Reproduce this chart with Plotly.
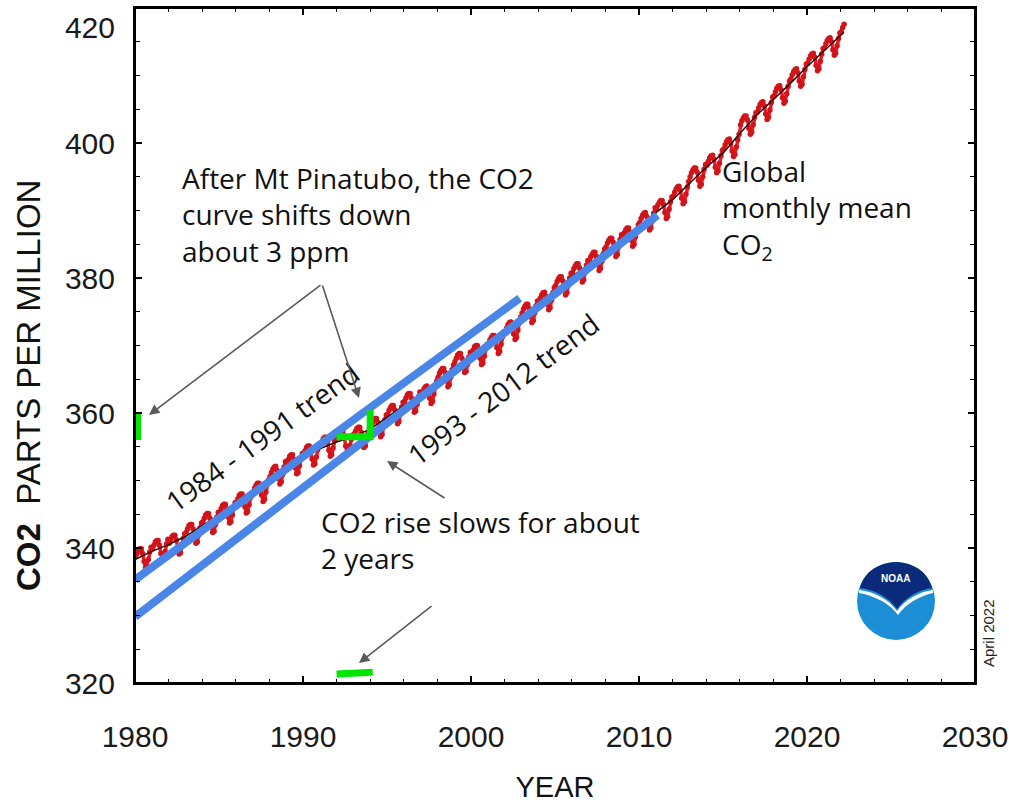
import pandas as pd
import plotly.graph_objects as go

# ---------------- data ----------------
# Global monthly mean CO2 (ppm), Jan 1980 .. Mar 2022
co2_monthly = [
    338.7, 339.2, 339.7, 339.9, 339.9, 339.2, 338.0, 337.1, 337.3, 338.3, 339.4, 340.1,  # 1980
    339.9, 340.4, 340.9, 341.1, 341.1, 340.4, 339.2, 338.3, 338.5, 339.5, 340.6, 341.3,  # 1981
    340.7, 341.2, 341.7, 341.9, 341.9, 341.2, 340.0, 339.1, 339.3, 340.3, 341.4, 342.1,  # 1982
    342.3, 342.8, 343.3, 343.5, 343.5, 342.8, 341.6, 340.7, 340.9, 341.9, 343.0, 343.7,  # 1983
    343.9, 344.4, 344.9, 345.1, 345.1, 344.4, 343.2, 342.3, 342.5, 343.5, 344.6, 345.3,  # 1984
    345.3, 345.8, 346.3, 346.5, 346.5, 345.8, 344.6, 343.7, 343.9, 344.9, 346.0, 346.7,  # 1985
    346.8, 347.3, 347.8, 348.0, 348.0, 347.3, 346.1, 345.2, 345.4, 346.4, 347.5, 348.2,  # 1986
    348.3, 348.9, 349.3, 349.6, 349.6, 349.0, 347.8, 346.9, 347.2, 348.3, 349.4, 350.1,  # 1987
    350.6, 351.2, 351.7, 352.0, 352.1, 351.5, 350.3, 349.5, 349.8, 350.9, 352.0, 352.8,  # 1988
    352.6, 353.1, 353.6, 353.8, 353.8, 353.1, 351.9, 351.0, 351.2, 352.2, 353.3, 354.0,  # 1989
    353.9, 354.4, 354.9, 355.1, 355.1, 354.4, 353.2, 352.3, 352.5, 353.5, 354.6, 355.3,  # 1990
    355.2, 355.7, 356.2, 356.4, 356.4, 355.7, 354.5, 353.6, 353.8, 354.8, 355.9, 356.6,  # 1991
    356.3, 356.7, 357.1, 357.3, 357.2, 356.5, 355.1, 354.2, 354.3, 355.2, 356.1, 356.7,  # 1992
    356.9, 357.3, 357.7, 357.9, 357.9, 357.2, 355.9, 354.9, 355.1, 356.0, 357.0, 357.7,  # 1993
    357.9, 358.5, 358.9, 359.2, 359.2, 358.6, 357.4, 356.5, 356.8, 357.9, 359.0, 359.7,  # 1994
    359.8, 360.4, 360.8, 361.1, 361.1, 360.5, 359.3, 358.4, 358.7, 359.8, 360.9, 361.6,  # 1995
    361.7, 362.2, 362.7, 362.9, 362.9, 362.2, 361.0, 360.1, 360.3, 361.3, 362.4, 363.1,  # 1996
    362.5, 363.1, 363.6, 363.9, 364.0, 363.4, 362.2, 361.4, 361.7, 362.8, 363.9, 364.7,  # 1997
    365.3, 365.9, 366.3, 366.6, 366.6, 366.0, 364.8, 363.9, 364.2, 365.3, 366.4, 367.1,  # 1998
    367.6, 368.1, 368.6, 368.8, 368.8, 368.1, 366.9, 366.0, 366.2, 367.2, 368.3, 369.0,  # 1999
    368.8, 369.3, 369.8, 370.0, 370.0, 369.3, 368.1, 367.2, 367.4, 368.4, 369.5, 370.2,  # 2000
    370.2, 370.8, 371.2, 371.5, 371.5, 370.9, 369.7, 368.8, 369.1, 370.2, 371.3, 372.0,  # 2001
    372.0, 372.6, 373.1, 373.4, 373.5, 372.9, 371.7, 370.9, 371.2, 372.3, 373.4, 374.2,  # 2002
    374.8, 375.4, 375.8, 376.1, 376.1, 375.5, 374.3, 373.4, 373.7, 374.8, 375.9, 376.6,  # 2003
    376.4, 377.0, 377.5, 377.8, 377.9, 377.3, 376.1, 375.3, 375.6, 376.7, 377.8, 378.6,  # 2004
    378.9, 379.5, 379.9, 380.2, 380.2, 379.6, 378.4, 377.5, 377.8, 378.9, 380.0, 380.7,  # 2005
    380.8, 381.4, 381.8, 382.1, 382.1, 381.5, 380.3, 379.4, 379.7, 380.8, 381.9, 382.6,  # 2006
    382.5, 383.1, 383.5, 383.8, 383.8, 383.2, 382.0, 381.1, 381.4, 382.5, 383.6, 384.3,  # 2007
    384.6, 385.2, 385.6, 385.9, 385.9, 385.3, 384.1, 383.2, 383.5, 384.6, 385.7, 386.4,  # 2008
    386.1, 386.7, 387.1, 387.4, 387.4, 386.8, 385.6, 384.7, 385.0, 386.1, 387.2, 387.9,  # 2009
    388.2, 388.8, 389.3, 389.6, 389.7, 389.1, 387.9, 387.1, 387.4, 388.5, 389.6, 390.4,  # 2010
    390.2, 390.8, 391.2, 391.5, 391.5, 390.9, 389.7, 388.8, 389.1, 390.2, 391.3, 392.0,  # 2011
    392.1, 392.7, 393.2, 393.5, 393.6, 393.0, 391.8, 391.0, 391.3, 392.4, 393.5, 394.3,  # 2012
    395.0, 395.6, 396.0, 396.3, 396.3, 395.7, 394.5, 393.6, 393.9, 395.0, 396.1, 396.8,  # 2013
    396.7, 397.3, 397.8, 398.1, 398.2, 397.6, 396.4, 395.6, 395.9, 397.0, 398.1, 398.9,  # 2014
    399.1, 399.7, 400.2, 400.5, 400.6, 400.0, 398.8, 398.0, 398.3, 399.4, 400.5, 401.3,  # 2015
    402.7, 403.3, 403.7, 404.0, 404.0, 403.4, 402.2, 401.3, 401.6, 402.7, 403.8, 404.5,  # 2016
    404.6, 405.2, 405.7, 406.0, 406.1, 405.5, 404.3, 403.5, 403.8, 404.9, 406.0, 406.8,  # 2017
    407.0, 407.6, 408.1, 408.4, 408.5, 407.9, 406.7, 405.9, 406.2, 407.3, 408.4, 409.2,  # 2018
    409.5, 410.1, 410.6, 410.9, 411.0, 410.4, 409.2, 408.4, 408.7, 409.8, 410.9, 411.7,  # 2019
    411.8, 412.4, 412.9, 413.2, 413.3, 412.7, 411.5, 410.7, 411.0, 412.1, 413.2, 414.0,  # 2020
    414.1, 414.7, 415.2, 415.5, 415.6, 415.0, 413.8, 413.0, 413.3, 414.4, 415.5, 416.3,  # 2021
    416.5, 417.1, 417.6,                                                                  # 2022
]

# Deseasonalized trend (black line), value at the start of each year
trend_years = [1980, 1981, 1982, 1983, 1984, 1985, 1986, 1987, 1988, 1989, 1990,
               1991, 1992, 1993, 1994, 1995, 1996, 1997, 1998, 1999, 2000, 2001,
               2002, 2003, 2004, 2005, 2006, 2007, 2008, 2009, 2010, 2011, 2012,
               2013, 2014, 2015, 2016, 2017, 2018, 2019, 2020, 2021, 2022, 2022.2]
trend_values = [338.3, 339.5, 340.5, 341.7, 343.3, 344.8, 346.3, 347.8, 349.9, 352.0, 353.4,
                354.7, 355.7, 356.5, 357.6, 359.3, 361.1, 362.5, 364.4, 366.8, 368.4, 369.8,
                371.6, 373.9, 376.1, 378.1, 380.2, 382.0, 384.0, 385.8, 387.6, 389.7, 391.6,
                394.0, 396.4, 398.5, 401.4, 404.1, 406.4, 408.8, 411.3, 413.6, 415.9, 416.4]

# Hand-drawn blue trend lines (year, ppm)
trend_8491_x = [1980.0, 2002.9]
trend_8491_y = [335.3, 377.0]
trend_9312_x = [1980.0, 2011.1]
trend_9312_y = [329.8, 389.3]

# Green marks (year, ppm)
green_axis_x = [1980.15, 1980.15]
green_axis_y = [356.0, 360.0]
green_step_x = [1992.0, 1994.0, 1994.0]
green_step_y = [356.5, 356.5, 360.4]
green_base_x = [1992.0, 1994.15]
green_base_y = [321.35, 321.6]

x_tick_vals = [1980, 1990, 2000, 2010, 2020, 2030]
x_tick_text = ["1980", "1990", "2000", "2010", "2020", "2030"]
y_tick_vals = [320, 340, 360, 380, 400, 420]
y_tick_text = ["320", "340", "360", "380", "400", "<br>420"]

# ---------------- geometry helpers (layout placement only) ----------------
L, R, T, B = 135, 975, 8, 683
X0, X1, Y0, Y1 = 1980, 2030, 320, 420


def dx(px):
    return X0 + (px - L) * (X1 - X0) / (R - L)


def dy(py):
    return Y0 + (B - py) * (Y1 - Y0) / (B - T)


def pxp(px):
    return (px - L) / (R - L)


def pyp(py):
    return (B - py) / (B - T)


def path(points, close=True):
    cmds = []
    for c, pts in points:
        s = " ".join(f"{pxp(a):.5f},{pyp(b):.5f}" for a, b in pts)
        cmds.append(f"{c} {s}")
    return " ".join(cmds) + (" Z" if close else "")


# monthly x positions (decimal years, mid-month)
months = pd.date_range("1980-01-01", periods=len(co2_monthly), freq="MS")
x_month = [d.year + (d.month - 0.5) / 12 for d in months]

fig = go.Figure()

fig.add_trace(go.Scatter(
    x=x_month, y=co2_monthly, mode="lines+markers",
    line=dict(color="#ee1c22", width=3.5),
    marker=dict(symbol="circle", size=5.5, color="#d0141a"),
    hoverinfo="skip", showlegend=False))

fig.add_trace(go.Scatter(
    x=trend_years, y=trend_values, mode="lines",
    line=dict(color="#2a0808", width=1.5),
    hoverinfo="skip", showlegend=False))

# empty trace that activates the top (mirror) year axis carrying the top ticks
fig.add_trace(go.Scatter(x=[], y=[], xaxis="x2", yaxis="y", hoverinfo="skip",
                         showlegend=False))

blue = "#4a86e8"
for xs, ys in [(trend_8491_x, trend_8491_y), (trend_9312_x, trend_9312_y)]:
    fig.add_trace(go.Scatter(x=xs, y=ys, mode="lines",
                             line=dict(color=blue, width=8),
                             hoverinfo="skip", showlegend=False, cliponaxis=False))

green = "#00e600"
for xs, ys in [(green_axis_x, green_axis_y), (green_step_x, green_step_y),
               (green_base_x, green_base_y)]:
    fig.add_trace(go.Scatter(x=xs, y=ys, mode="lines",
                             line=dict(color=green, width=7),
                             hoverinfo="skip", showlegend=False, cliponaxis=False))

txt_font = dict(family="Open Sans", size=28, color="#111111")
annotations = [
    dict(x=dx(180), y=dy(214), xref="x", yref="y", xanchor="left", yanchor="middle",
         align="left", showarrow=False, font=txt_font,
         text="After Mt Pinatubo, the CO2<br>curve shifts down<br>about 3 ppm"),
    dict(x=dx(720), y=dy(209), xref="x", yref="y", xanchor="left", yanchor="middle",
         align="left", showarrow=False, font=txt_font,
         text="Global<br>monthly mean<br>CO<sub>2</sub>"),
    dict(x=dx(319), y=dy(540), xref="x", yref="y", xanchor="left", yanchor="middle",
         align="left", showarrow=False, font=txt_font,
         text="CO2 rise slows for about<br>2 years"),
    dict(x=dx(262), y=dy(437), xref="x", yref="y", xanchor="center", yanchor="middle",
         showarrow=False, font=txt_font, textangle=-36, text="1984 - 1991 trend"),
    dict(x=dx(503), y=dy(389), xref="x", yref="y", xanchor="center", yanchor="middle",
         showarrow=False, font=txt_font, textangle=-37, text="1993 - 2012 trend"),
    # y axis title
    dict(x=pxp(28), y=pyp(386), xref="paper", yref="paper", xanchor="center",
         yanchor="middle", showarrow=False, textangle=-90,
         font=dict(family="Liberation Sans", size=33, color="#111111"),
         text="<b>CO2</b>\u00a0\u00a0PARTS PER MILLION"),
    # date stamp
    dict(x=pxp(988), y=pyp(633), xref="paper", yref="paper", xanchor="center",
         yanchor="middle", showarrow=False, textangle=-90,
         font=dict(family="Liberation Sans", size=15, color="#222222"),
         text="April 2022"),
    # NOAA logo text
    dict(x=pxp(895), y=pyp(578), xref="paper", yref="paper", xanchor="center",
         yanchor="middle", showarrow=False,
         font=dict(family="Liberation Sans", size=10, color="white"),
         text="<b>NOAA</b>"),
]

arrow_style = dict(showarrow=True, arrowhead=2, arrowsize=1.3, arrowwidth=1.6,
                   arrowcolor="#5a5a5a", text="", xref="x", yref="y", standoff=0)
for head, tail in [((149, 415), (322, 284)), ((359, 398), (322, 284)),
                   ((387, 461), (446, 499)), ((359, 663), (433, 605))]:
    annotations.append(dict(x=dx(head[0]), y=dy(head[1]),
                            ax=tail[0] - head[0], ay=tail[1] - head[1], **arrow_style))

shapes = [
    # plot frame
    dict(type="rect", xref="paper", yref="paper", x0=0, x1=1, y0=0, y1=1,
         line=dict(color="black", width=2), fillcolor="rgba(0,0,0,0)", layer="above"),
    # NOAA logo
    dict(type="circle", xref="paper", yref="paper",
         x0=pxp(857), x1=pxp(935), y0=pyp(640), y1=pyp(562),
         fillcolor="#1c8ed6", line=dict(width=0)),
    dict(type="path", xref="paper", yref="paper", fillcolor="white", line=dict(width=0),
         path=path([("M", [(859, 590)]),
                    ("C", [(876, 592), (889, 600), (897, 611)]),
                    ("C", [(905, 600), (918, 592), (933, 590)]),
                    ("L", [(933, 593)]),
                    ("C", [(919, 596), (906, 604), (898, 615)]),
                    ("C", [(890, 604), (876, 596), (859, 593)])])),
    dict(type="path", xref="paper", yref="paper", fillcolor="#0b2b7a", line=dict(width=0),
         path=path([("M", [(860, 588)]),
                    ("C", [(864, 571), (879, 563), (896, 562)]),
                    ("C", [(913, 563), (928, 571), (932, 588)]),
                    ("C", [(918, 590), (905, 598), (897, 609)]),
                    ("C", [(889, 598), (876, 590), (860, 588)])])),
]

axis_common = dict(showline=True, linewidth=2, linecolor="black", mirror="ticks",
                   ticks="inside", ticklen=7, tickwidth=1.5, tickcolor="black",
                   showgrid=False, zeroline=False, automargin=False,
                   ticklabeloverflow="allow",
                   tickfont=dict(family="Liberation Sans", size=30, color="#1a1a1a"))

fig.update_layout(
    template="none",
    width=1009, height=803, autosize=False,
    margin=dict(l=L, r=1009 - R, t=T, b=803 - B, pad=0),
    paper_bgcolor="white", plot_bgcolor="white",
    showlegend=False,
    xaxis=dict(range=[X0, X1], tickvals=x_tick_vals, ticktext=x_tick_text,
               ticklabelstandoff=26,
               minor=dict(dtick=2, tick0=1980, ticks="inside", ticklen=4,
                          tickwidth=1.2, tickcolor="black"),
               title=dict(text="YEAR", standoff=32,
                          font=dict(family="Liberation Sans", size=29, color="#111111")),
               **axis_common),
    xaxis2=dict(range=[X0, X1], overlaying="x", side="top", anchor="y",
                tickvals=x_tick_vals, showticklabels=False, showline=False,
                ticks="inside", ticklen=7, tickwidth=1.5, tickcolor="black",
                minor=dict(dtick=2, tick0=1980, ticks="inside", ticklen=4,
                           tickwidth=1.2, tickcolor="black"),
                showgrid=False, zeroline=False, automargin=False),
    yaxis=dict(range=[Y0, Y1], tickvals=y_tick_vals, ticktext=y_tick_text,
               ticklabelstandoff=12,
               minor=dict(dtick=5, tick0=320, ticks="inside", ticklen=5,
                          tickwidth=1.2, tickcolor="black"),
               **axis_common),
    annotations=annotations,
    shapes=shapes,
)

fig.write_html("out.html", config={"displayModeBar": False},
               post_script="document.body.style.margin='0';document.body.style.overflow='hidden';")
